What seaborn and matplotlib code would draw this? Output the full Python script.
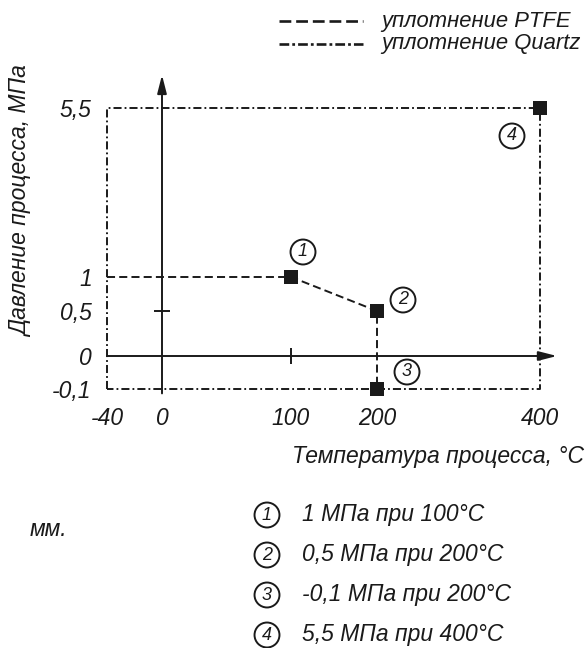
import numpy as np
import pandas as pd
import matplotlib
matplotlib.use("Agg")
import matplotlib.pyplot as plt
from matplotlib.lines import Line2D
import seaborn as sns

# Data
ptfe_temp = [-40, 100, 200, 200]
ptfe_press = [1, 1, 0.5, -0.1]
quartz_temp = [-40, -40, 400, 400, -40]
quartz_press = [-0.1, 5.5, 5.5, -0.1, -0.1]
point_temp = [100, 200, 200, 400]
point_press = [1, 0.5, -0.1, 5.5]
point_ids = ["1", "2", "3", "4"]
notes = ["1 МПа при 100°C", "0,5 МПа при 200°C", "-0,1 МПа при 200°C", "5,5 МПа при 400°C"]
seal_names = ["уплотнение PTFE", "уплотнение Quartz"]
x_ticks = [-40, 0, 100, 200, 400]
x_ticklabels = ["-40", "0", "100", "200", "400"]
y_ticks = [-0.1, 0, 0.5, 1, 5.5]
y_ticklabels = ["-0,1", "0", "0,5", "1", "5,5"]

sns.set_theme(style="white")
plt.rcParams["font.family"] = ["Liberation Sans", "DejaVu Sans"]
plt.rcParams["font.style"] = "italic"
plt.rcParams["lines.scale_dashes"] = False

FS = 16.5
INK = "#1a1a1a"
W, H = 587, 648
fig = plt.figure(figsize=(W / 100, H / 100), dpi=100)

# schematic (not to scale) axes -> piecewise linear scales, in pixel units
x_vals = [-45, -40, 0, 100, 200, 400, 425]
x_pix = [100, 107, 162, 291, 377, 540, 565]
y_vals = [-0.12, -0.1, 0, 0.5, 1, 5.5, 6.5]
y_pix = [H - p for p in [400, 389, 356, 311, 277, 108, 70]]

ax = fig.add_axes([x_pix[0] / W, y_pix[0] / H, (x_pix[-1] - x_pix[0]) / W, (y_pix[-1] - y_pix[0]) / H])
ax.set_xscale("function", functions=(lambda v: np.interp(v, x_vals, x_pix), lambda p: np.interp(p, x_pix, x_vals)))
ax.set_yscale("function", functions=(lambda v: np.interp(v, y_vals, y_pix), lambda p: np.interp(p, y_pix, y_vals)))
ax.set_xlim(x_vals[0], x_vals[-1])
ax.set_ylim(y_vals[0], y_vals[-1])
for s in ax.spines.values():
    s.set_visible(False)
ax.patch.set_alpha(0)

ptfe = pd.DataFrame({"t": ptfe_temp, "p": ptfe_press})
quartz = pd.DataFrame({"t": quartz_temp, "p": quartz_press})
pts = pd.DataFrame({"t": point_temp, "p": point_press})

dashdot = (5.8, 2.2, 1.3, 2.2)
dashed = (5.8, 3.0)
sns.lineplot(data=quartz, x="t", y="p", sort=False, color=INK, lw=1.4, ax=ax, estimator=None)
ax.lines[-1].set_dashes(dashdot)
sns.lineplot(data=ptfe, x="t", y="p", sort=False, color=INK, lw=1.4, ax=ax, estimator=None)
ax.lines[-1].set_dashes(dashed)

# axes with arrows
arrow = dict(arrowstyle="-|>,head_length=1.1,head_width=0.28", color=INK, lw=1.4,
             mutation_scale=10, shrinkA=0, shrinkB=0)
ax.annotate("", xy=(417, 0), xytext=(-40, 0), arrowprops=arrow)
ax.annotate("", xy=(0, 6.37), xytext=(0, -0.108), arrowprops=arrow)
ax.plot([0], [0.5], marker="_", ms=12, mew=1.4, color=INK)
ax.plot([100], [0], marker="|", ms=12, mew=1.4, color=INK)

sns.scatterplot(data=pts, x="t", y="p", marker="s", s=90, color=INK, edgecolor="none", ax=ax, zorder=5)

circle_box = dict(boxstyle="circle,pad=0.22", fc="white", ec=INK, lw=1.4)

# circled point numbers
offsets = [(12, 25), (26, 11), (30, 17), (-28, -28)]
for t, p, lab, off in zip(point_temp, point_press, point_ids, offsets):
    ax.annotate(lab, (t, p), xytext=off, textcoords="offset pixels", ha="center", va="center",
                fontsize=13, color=INK, bbox=circle_box)

ax.set_xticks(x_ticks)
ax.set_xticklabels(x_ticklabels, fontsize=FS, color=INK)
ax.set_yticks(y_ticks)
ax.set_yticklabels(y_ticklabels, fontsize=FS, color=INK)
ax.tick_params(length=0, axis="x", pad=5)
ax.tick_params(length=0, axis="y", pad=6)
ax.set_xlabel("")
ax.set_ylabel("")

fig.text(22 / W, 1 - 202 / H, "Давление процесса, МПа", rotation=90, ha="center", va="center",
         fontsize=FS, color=INK)
fig.text(584 / W, 1 - 457 / H, "Температура процесса, °C", ha="right", va="center", fontsize=FS, color=INK)

# legend, drawn by hand to keep the tight row spacing
for i, (name, dash) in enumerate(zip(seal_names, [(8.5, 3.5), (7, 2.2, 2, 2.2)])):
    y = 1 - (21 + 22.5 * i) / H
    fig.add_artist(Line2D([279 / W, 363 / W], [y, y], color=INK, lw=1.9, dashes=dash))
    fig.text(381 / W, y, name, ha="left", va="center", fontsize=15.8, color=INK)

# notes below the chart
for i, (lab, note) in enumerate(zip(point_ids, notes)):
    y = 1 - (515 + 40 * i) / H
    fig.text(267 / W, y, lab, ha="center", va="center", fontsize=13, color=INK, bbox=circle_box)
    fig.text(302 / W, y, note, ha="left", va="center", fontsize=FS, color=INK)
fig.text(30 / W, 1 - 529 / H, "мм.", ha="left", va="center", fontsize=FS, color=INK)

fig.savefig("out.png", dpi=100, facecolor="white")
